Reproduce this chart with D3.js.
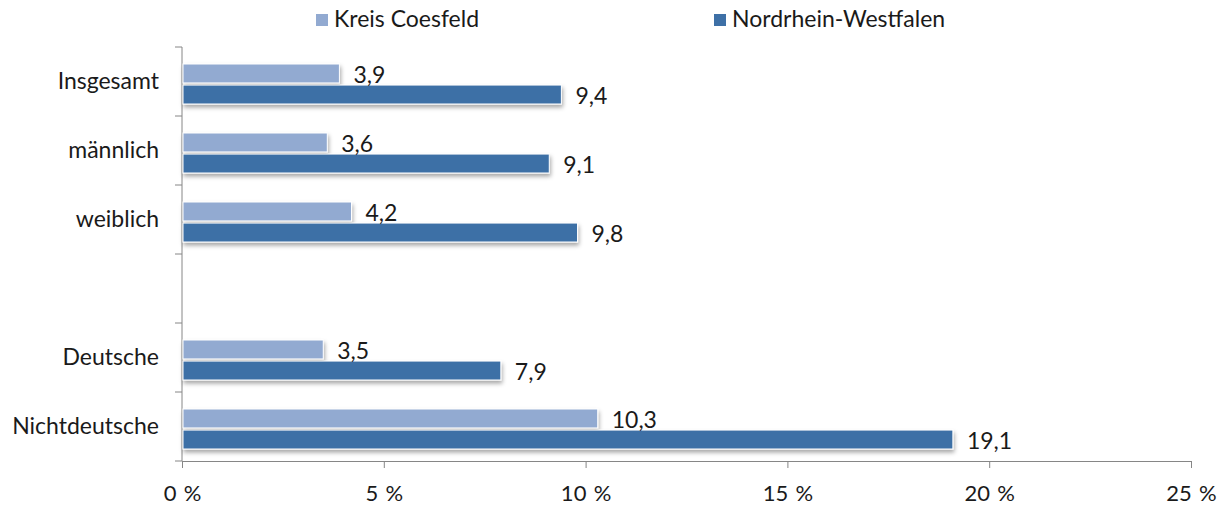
<!DOCTYPE html>
<html>
<head>
<meta charset="utf-8">
<script src="https://cdn.jsdelivr.net/npm/d3@7"></script>
<style>
  body { margin: 0; background: #fff; }
  text { font-family: Lato, "Noto Sans", sans-serif; fill: #1a1a1a; }
</style>
</head>
<body>
<div id="chart"></div>
<script>
// categories (the blank one is the gap between the two groups)
const categories = ['Insgesamt', 'männlich', 'weiblich', ' ', 'Deutsche', 'Nichtdeutsche'];
const seriesNames = ['Kreis Coesfeld', 'Nordrhein-Westfalen'];
const coesfeld = [3.9, 3.6, 4.2, null, 3.5, 10.3];
const nrw = [9.4, 9.1, 9.8, null, 7.9, 19.1];
const xTicks = [0, 5, 10, 15, 20, 25];
const colors = ['#92aad1', '#3e70a6'];

const width = 1227, height = 506;
const margin = { top: 47, right: 35, bottom: 45, left: 182 };

const svg = d3.select('#chart').append('svg')
  .attr('width', width)
  .attr('height', height);

// drop shadow for the bars
const defs = svg.append('defs');
defs.append('filter')
  .attr('id', 'shadow')
  .attr('x', '-5%').attr('y', '-30%')
  .attr('width', '110%').attr('height', '180%')
  .append('feDropShadow')
  .attr('dx', 1).attr('dy', 3)
  .attr('stdDeviation', 2)
  .attr('flood-color', '#000')
  .attr('flood-opacity', 0.35);

const x = d3.scaleLinear()
  .domain([0, 25])
  .range([margin.left, margin.left + 1009]);

const y = d3.scaleBand()
  .domain(categories)
  .range([margin.top, height - margin.bottom])
  .paddingInner(0)
  .paddingOuter(0);

const sub = d3.scaleBand()
  .domain(seriesNames)
  .range([17, y.bandwidth() - 12])
  .paddingInner(0.1);

// x axis
const xAxis = svg.append('g')
  .attr('transform', `translate(0, ${height - margin.bottom})`)
  .call(d3.axisBottom(x).tickValues(xTicks).tickSize(7).tickPadding(17)
    .tickFormat(d => d + '\u2004%'));
xAxis.select('.domain').attr('stroke', '#868686');
xAxis.selectAll('.tick line').attr('stroke', '#868686');
xAxis.selectAll('.tick text').style('font-size', '22px').attr('fill', '#1a1a1a');

// y axis: ticks between categories
const yAxis = svg.append('g')
  .attr('transform', `translate(${margin.left}, 0)`);
yAxis.append('line')
  .attr('x1', 0).attr('x2', 0)
  .attr('y1', y.range()[0]).attr('y2', y.range()[1])
  .attr('stroke', '#868686');
const bounds = categories.map(c => y(c)).concat([y.range()[1]]);
yAxis.selectAll('.ytick')
  .data(bounds)
  .enter()
  .append('line')
  .attr('x1', -7).attr('x2', 0)
  .attr('y1', d => d).attr('y2', d => d)
  .attr('stroke', '#868686');
yAxis.selectAll('.ylabel')
  .data(categories)
  .enter()
  .append('text')
  .attr('x', -23)
  .attr('y', d => y(d) + y.bandwidth() / 2 + 2)
  .attr('text-anchor', 'end')
  .attr('dominant-baseline', 'middle')
  .style('font-size', '23px')
  .text(d => d.trim());

// bars
const rows = [];
categories.forEach((c, i) => {
  [coesfeld, nrw].forEach((vals, s) => {
    if (vals[i] != null) rows.push({ cat: c, series: seriesNames[s], value: vals[i], color: colors[s] });
  });
});

svg.append('g')
  .selectAll('rect')
  .data(rows)
  .enter()
  .append('rect')
  .attr('x', x(0) + 1)
  .attr('y', d => y(d.cat) + sub(d.series))
  .attr('width', d => x(d.value) - x(0) - 1)
  .attr('height', sub.bandwidth())
  .attr('fill', d => d.color)
  .attr('stroke', '#fff')
  .attr('stroke-width', 1)
  .attr('filter', 'url(#shadow)');

// value labels
svg.append('g')
  .selectAll('text')
  .data(rows)
  .enter()
  .append('text')
  .attr('x', d => x(d.value) + 14)
  .attr('y', d => y(d.cat) + sub(d.series) + sub.bandwidth() / 2 + 4)
  .attr('dominant-baseline', 'middle')
  .style('font-size', '23px')
  .text(d => d3.format('.1f')(d.value).replace('.', ','));

// legend
const legendX = [316, 714];
const legend = svg.append('g')
  .selectAll('g')
  .data(seriesNames)
  .enter()
  .append('g')
  .attr('transform', (d, i) => `translate(${legendX[i]}, 14)`);
legend.append('rect')
  .attr('width', 12).attr('height', 12)
  .attr('fill', (d, i) => colors[i]);
legend.append('text')
  .attr('x', 18)
  .attr('y', 7)
  .attr('dominant-baseline', 'middle')
  .style('font-size', '23px')
  .text(d => d);
</script>
</body>
</html>
